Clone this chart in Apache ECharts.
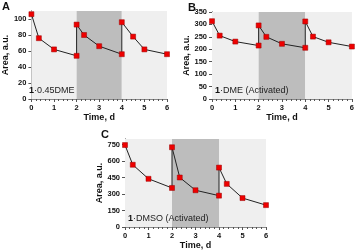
<!DOCTYPE html>
<html><head><meta charset="utf-8">
<script src="https://cdn.jsdelivr.net/npm/echarts@6/dist/echarts.min.js"></script>
<style>html,body{margin:0;padding:0;background:#fff}#c{width:357px;height:252px}</style>
</head><body><div id="c"></div>
<script>
// Data
const timeA = [0, 0.33, 1, 2, 2, 2.33, 3, 4, 4, 4.5, 5, 6];
const areaA = [106, 76, 62, 54, 93, 80, 66, 56, 96, 78, 62, 56];
const timeB = [0, 0.33, 1, 2, 2, 2.33, 3, 4, 4, 4.33, 5, 6];
const areaB = [313, 255, 231, 215, 296, 250, 222, 206, 312, 251, 228, 211];
const timeC = [0, 0.33, 1, 2, 2, 2.33, 3, 4, 4, 4.33, 5, 6];
const areaC = [745, 566, 438, 355, 725, 450, 334, 285, 540, 392, 263, 199];
const panelLabels = ['A', 'B', 'C'];
const sampleLabels = ['0.45DME', 'DME (Activated)', 'DMSO (Activated)'];
const shadedRange = [2, 4];
const yMax = [110, 350, 800];
const yInterval = [20, 50, 150];

const chart = echarts.init(document.getElementById('c'), null, {renderer: 'canvas'});
const grids = [
  {left: 26, top: 11, width: 141, height: 88},
  {left: 212, top: 12, width: 141, height: 87},
  {left: 125, top: 139, width: 141, height: 88}
];
const sets = [[timeA, areaA], [timeB, areaB], [timeC, areaC]];
const axisCol = '#555';
const labelStyle = {color: '#111', fontSize: 7.5, fontWeight: 'bold', fontFamily: 'Arial, Liberation Sans'};

const xAxes = [], yAxes = [], series = [], graphics = [];
grids.forEach((g, i) => {
  xAxes.push({
    gridIndex: i, type: 'value', min: 0, max: 6, interval: 1,
    name: 'Time, d', nameLocation: 'middle', nameGap: 14,
    nameTextStyle: {color: '#111', fontSize: 9, fontWeight: 'bold', fontFamily: 'Arial, Liberation Sans'},
    axisLine: {show: true, lineStyle: {color: axisCol, width: 1}},
    axisTick: {show: true, length: 3, lineStyle: {color: axisCol}},
    minorTick: {show: true, splitNumber: 5, length: 2, lineStyle: {color: axisCol}},
    axisLabel: Object.assign({margin: 5}, labelStyle),
    splitLine: {show: false}
  });
  xAxes.push({
    gridIndex: i, type: 'value', min: 0, max: 6, position: 'top',
    axisLine: {show: true, lineStyle: {color: '#888'}}, axisTick: {show: false},
    axisLabel: {show: false}, splitLine: {show: false}
  });
  yAxes.push({
    gridIndex: i, type: 'value', min: 0, max: yMax[i], interval: yInterval[i],
    name: 'Area, a.u.', nameLocation: 'middle', nameGap: i === 0 ? 18 : 21, nameRotate: 90,
    nameTextStyle: {color: '#111', fontSize: 9, fontWeight: 'bold', fontFamily: 'Arial, Liberation Sans'},
    axisLine: {show: true, lineStyle: {color: axisCol, width: 1}},
    axisTick: {show: true, length: 3, lineStyle: {color: axisCol}},
    axisLabel: Object.assign({margin: 5, showMaxLabel: yMax[i] % yInterval[i] === 0}, labelStyle),
    splitLine: {show: false}
  });
  yAxes.push({
    gridIndex: i, type: 'value', min: 0, max: yMax[i], position: 'right',
    axisLine: {show: true, lineStyle: {color: '#888'}}, axisTick: {show: false},
    axisLabel: {show: false}, splitLine: {show: false}
  });
  const [t, a] = sets[i];
  series.push({
    type: 'line', xAxisIndex: 2 * i, yAxisIndex: 2 * i,
    data: t.map((x, k) => [x, a[k]]),
    symbol: 'rect', symbolSize: 5,
    itemStyle: {color: '#ee0000', borderColor: '#990000', borderWidth: 0.5},
    lineStyle: {color: '#222', width: 1},
    animation: false, z: 5,
    markArea: {
      silent: true,
      data: [
        [{xAxis: 0, itemStyle: {color: '#efefef'}}, {xAxis: shadedRange[0]}],
        [{xAxis: shadedRange[0], itemStyle: {color: '#bdbdbd'}}, {xAxis: shadedRange[1]}],
        [{xAxis: shadedRange[1], itemStyle: {color: '#efefef'}}, {xAxis: 6}]
      ]
    }
  });
  graphics.push({
    type: 'text', left: g.left - 24, top: g.top - 10,
    style: {text: panelLabels[i], fontSize: 11, fontWeight: 'bold', fill: '#111', fontFamily: 'Arial, Liberation Sans'}
  });
  graphics.push({
    type: 'text', left: g.left + 3, top: g.top + g.height - 13, z: 10,
    style: {
      text: '{b|1}·' + sampleLabels[i],
      rich: {b: {fontWeight: 'bold', fontSize: 9, fill: '#111', fontFamily: 'Arial, Liberation Sans'}},
      fontSize: 9, fill: '#222', fontFamily: 'Arial, Liberation Sans'
    }
  });
});

chart.setOption({
  animation: false,
  grid: grids,
  xAxis: xAxes,
  yAxis: yAxes,
  series: series,
  graphic: graphics
});
</script></body></html>
